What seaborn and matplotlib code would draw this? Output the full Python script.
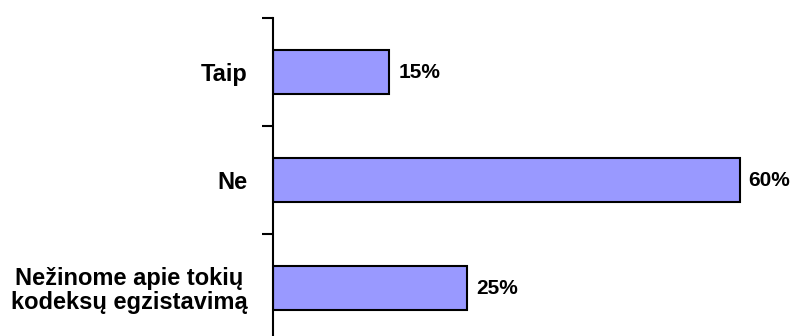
import matplotlib
matplotlib.use("Agg")
import matplotlib.pyplot as plt
import seaborn as sns
import pandas as pd

categories = ["Taip", "Ne", "Nežinome apie tokių\nkodeksų egzistavimą"]
values = [15, 60, 25]
value_labels = ["15%", "60%", "25%"]

df = pd.DataFrame({"category": categories, "value": values})

sns.set_theme(style="white")
plt.rcParams["font.family"] = ["Liberation Sans", "DejaVu Sans"]

fig = plt.figure(figsize=(7.92, 3.36), dpi=100)
ax = fig.add_axes([272.5 / 792, -6 / 336, 506 / 792, 324 / 336])

sns.barplot(data=df, x="value", y="category", orient="h", color="#9999FF",
            saturation=1, edgecolor="black", linewidth=1.5, width=0.4, ax=ax)

ax.set_xlim(0, 65)
ax.set_ylim(2.5, -0.5)
ax.set_xlabel("")
ax.set_ylabel("")
ax.set_xticks([])

for spine in ["top", "right", "bottom"]:
    ax.spines[spine].set_visible(False)
ax.spines["left"].set_linewidth(1.5)
ax.spines["left"].set_color("black")

ax.set_yticks(range(len(categories)))
ax.set_yticklabels(categories, fontsize=17, fontweight="bold", color="black",
                   multialignment="center", linespacing=1.05)
ax.tick_params(axis="y", which="major", length=0, pad=18)
ax.set_yticks([-0.5, 0.5, 1.5, 2.5], minor=True)
ax.tick_params(axis="y", which="minor", length=8, width=1.5, color="black", left=True)

for i, (v, lab) in enumerate(zip(values, value_labels)):
    ax.annotate(lab, xy=(v, i), xytext=(9, 0), textcoords="offset pixels",
                ha="left", va="center", fontsize=15, fontweight="bold", color="black")

fig.savefig("out.png", dpi=100)
